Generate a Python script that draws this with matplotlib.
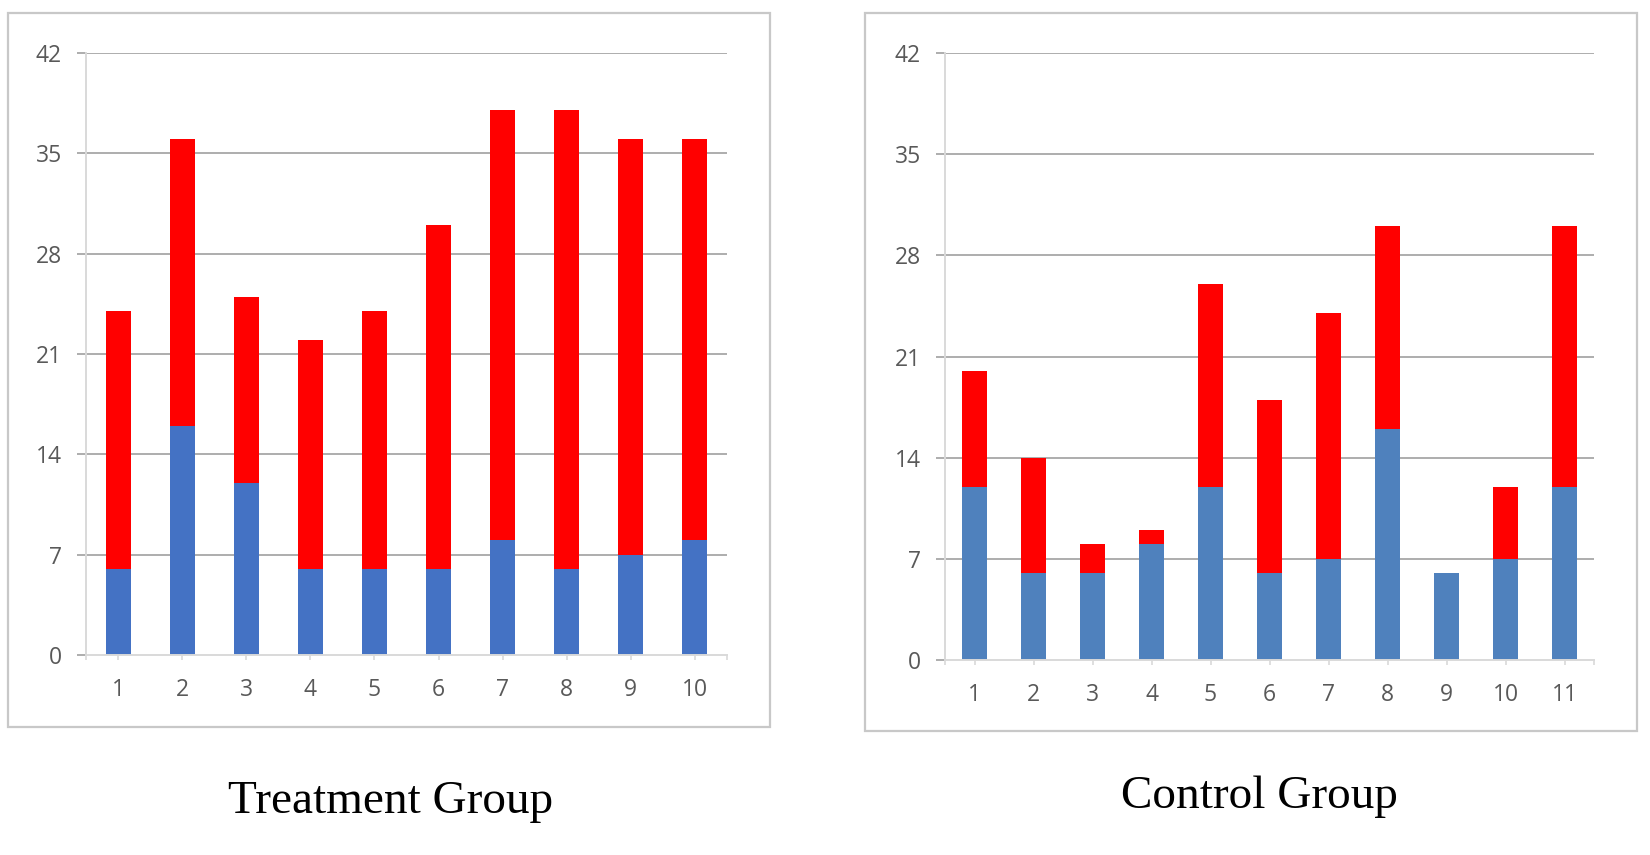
import matplotlib
matplotlib.use("Agg")
import matplotlib.pyplot as plt
from matplotlib.patches import Rectangle
import numpy as np

# ---- data ----
treat_labels = ["1", "2", "3", "4", "5", "6", "7", "8", "9", "10"]
treat_blue = [6, 16, 12, 6, 6, 6, 8, 6, 7, 8]
treat_red = [18, 20, 13, 16, 18, 24, 30, 32, 29, 28]

ctrl_labels = ["1", "2", "3", "4", "5", "6", "7", "8", "9", "10", "11"]
ctrl_blue = [12, 6, 6, 8, 12, 6, 7, 16, 6, 7, 12]
ctrl_red = [8, 8, 2, 1, 14, 12, 17, 14, 0, 5, 18]

y_ticks = [0, 7, 14, 21, 28, 35, 42]
titles = ["Treatment Group", "Control Group"]

W, H = 1650, 855
fig = plt.figure(figsize=(W / 100, H / 100), dpi=100)
fig.patch.set_facecolor("white")

RED = "#FF0000"
GRID = "#ADADAD"
AXL = "#D9D9D9"
TXT = "#595959"


def frac_rect(x0, y0, x1, y1):
    return [x0 / W, 1 - y1 / H, (x1 - x0) / W, (y1 - y0) / H]


# outer frames
for (x0, y0, x1, y1) in [(8, 13, 770, 727), (865, 13, 1637, 731)]:
    fig.patches.append(Rectangle((x0 / W, 1 - y1 / H), (x1 - x0) / W, (y1 - y0) / H,
                                 transform=fig.transFigure, fill=False,
                                 edgecolor="#C8C8C8", linewidth=1.6))


def draw(ax, labels, blue, red, bcolor, width):
    x = np.arange(len(labels))
    ax.bar(x, blue, width=width, color=bcolor, zorder=3)
    ax.bar(x, red, width=width, bottom=blue, color=RED, zorder=3)
    ax.set_xlim(-0.5, len(labels) - 0.5)
    ax.set_ylim(0, 42)
    ax.set_yticks(y_ticks)
    ax.set_yticklabels([str(v) for v in y_ticks], fontsize=16.5, color=TXT,
                       family="Open Sans")
    ax.set_xticks(x)
    ax.set_xticklabels(labels, fontsize=16.5, color=TXT, family="Open Sans")
    ax.set_xticks([-0.5, len(labels) - 0.5], minor=True)
    for v in y_ticks[1:]:
        ax.axhline(v, color=GRID, linewidth=1.4, zorder=1)
    for s in ["top", "right"]:
        ax.spines[s].set_visible(False)
    ax.spines["left"].set_color(AXL)
    ax.spines["left"].set_linewidth(1.4)
    ax.spines["bottom"].set_color(AXL)
    ax.spines["bottom"].set_linewidth(1.4)
    ax.spines["bottom"].set_zorder(4)
    ax.tick_params(axis="y", length=6.5, width=1.4, color=GRID, pad=11)
    ax.tick_params(axis="x", which="both", length=3.6, width=1.2, color=AXL, pad=13)
    ax.set_facecolor("white")


ax1 = fig.add_axes(frac_rect(86, 53, 727, 655))
draw(ax1, treat_labels, treat_blue, treat_red, "#4472C4", 0.39)
ax2 = fig.add_axes(frac_rect(945, 53, 1594, 660))
draw(ax2, ctrl_labels, ctrl_blue, ctrl_red, "#4F81BD", 0.41)

fig.text(391 / W, 1 - 813 / H, titles[0], ha="center", va="baseline",
         fontsize=34, family="Liberation Serif", color="black")
fig.text(1259 / W, 1 - 808 / H, titles[1], ha="center", va="baseline",
         fontsize=34, family="Liberation Serif", color="black")

fig.savefig("out.png", dpi=100, facecolor="white")
